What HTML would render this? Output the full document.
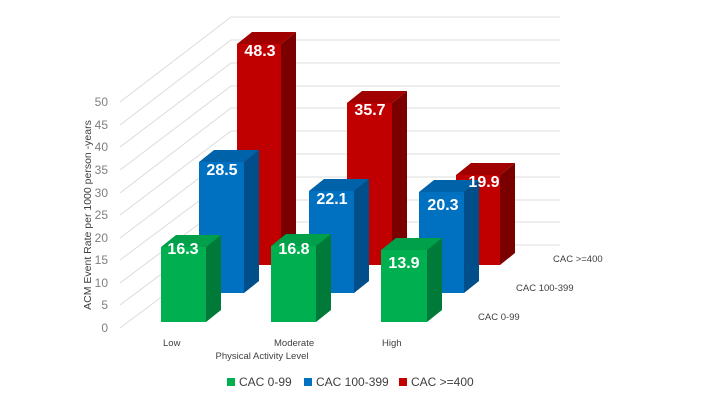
<!DOCTYPE html>
<html><head><meta charset="utf-8"><style>
body{margin:0;background:#fff;}
svg{display:block;font-family:"Liberation Sans",sans-serif;}
</style></head><body>
<svg width="720" height="405" viewBox="0 0 720 405">
<g stroke="#dcdcdc" stroke-width="1" fill="none">
<polyline points="120,328 231,245 560,245"/>
<polyline points="120,305 231,222 560,222"/>
<polyline points="120,283 231,200 560,200"/>
<polyline points="120,260 231,177 560,177"/>
<polyline points="120,238 231,154 560,154"/>
<polyline points="120,215 231,131 560,131"/>
<polyline points="120,193 231,108 560,108"/>
<polyline points="120,170 231,86 560,86"/>
<polyline points="120,147 231,63 560,63"/>
<polyline points="120,125 231,40 560,40"/>
<polyline points="120,102 231,17 560,17"/>
</g>
<g fill="#7f7f7f" font-size="12" text-anchor="end">
<text x="108" y="332">0</text><text x="108" y="309">5</text><text x="108" y="287">10</text>
<text x="108" y="264">15</text><text x="108" y="242">20</text><text x="108" y="219">25</text>
<text x="108" y="197">30</text><text x="108" y="174">35</text><text x="108" y="151">40</text>
<text x="108" y="129">45</text><text x="108" y="106">50</text>
</g>
<text transform="translate(91,215) rotate(-90)" text-anchor="middle" font-size="10.5" fill="#404040">ACM Event Rate per 1000 person -years</text>
<g>
<polygon points="281,44 296,32 296,253 281,265" fill="#7a0000"/>
<polygon points="237,44 252,32 296,32 281,44" fill="#a00000"/>
<rect x="237" y="44" width="44" height="221" fill="#c00000"/>
<polygon points="392,103 407,91 407,253 392,265" fill="#7a0000"/>
<polygon points="347,103 362,91 407,91 392,103" fill="#a00000"/>
<rect x="347" y="103" width="45" height="162" fill="#c00000"/>
<polygon points="500,175 515,163 515,253 500,265" fill="#7a0000"/>
<polygon points="456,175 471,163 515,163 500,175" fill="#a00000"/>
<rect x="456" y="175" width="44" height="90" fill="#c00000"/>

<polygon points="244,162 259,150 259,281 244,293" fill="#004f8a"/>
<polygon points="199,162 214,150 259,150 244,162" fill="#0062a8"/>
<rect x="199" y="162" width="45" height="131" fill="#0070c0"/>
<polygon points="354,191 369,179 369,281 354,293" fill="#004f8a"/>
<polygon points="309,191 324,179 369,179 354,191" fill="#0062a8"/>
<rect x="309" y="191" width="45" height="102" fill="#0070c0"/>
<polygon points="464,192 479,180 479,281 464,293" fill="#004f8a"/>
<polygon points="419,192 434,180 479,180 464,192" fill="#0062a8"/>
<rect x="419" y="192" width="45" height="101" fill="#0070c0"/>

<polygon points="206,247 221,235 221,310 206,322" fill="#007a38"/>
<polygon points="161,247 176,235 221,235 206,247" fill="#00a04a"/>
<rect x="161" y="247" width="45" height="75" fill="#00b050"/>
<polygon points="316,246 331,234 331,310 316,322" fill="#007a38"/>
<polygon points="271,246 286,234 331,234 316,246" fill="#00a04a"/>
<rect x="271" y="246" width="45" height="76" fill="#00b050"/>
<polygon points="427,250 442,238 442,310 427,322" fill="#007a38"/>
<polygon points="381,250 396,238 442,238 427,250" fill="#00a04a"/>
<rect x="381" y="250" width="46" height="72" fill="#00b050"/>
</g>
<g font-weight="bold" font-size="16" fill="#fff" text-anchor="middle">
<text x="260" y="56">48.3</text>
<text x="370" y="115">35.7</text>
<text x="484" y="187">19.9</text>
<text x="222" y="175">28.5</text>
<text x="332" y="204">22.1</text>
<text x="443" y="210">20.3</text>
<text x="183" y="254">16.3</text>
<text x="294" y="254">16.8</text>
<text x="404" y="268">13.9</text>
</g>
<g fill="#404040" font-size="9.5">
<text x="553" y="262">CAC &gt;=400</text>
<text x="516" y="291">CAC 100-399</text>
<text x="478" y="320">CAC 0-99</text>
<text x="163" y="346">Low</text>
<text x="274" y="346">Moderate</text>
<text x="382" y="346">High</text>
<text x="262" y="359" text-anchor="middle">Physical Activity Level</text>
</g>
<g font-size="12" fill="#404040">
<rect x="227" y="378" width="8" height="8" fill="#00b050"/><text x="239" y="386">CAC 0-99</text>
<rect x="304" y="378" width="8" height="8" fill="#0070c0"/><text x="316" y="386">CAC 100-399</text>
<rect x="399" y="378" width="8" height="8" fill="#c00000"/><text x="411" y="386">CAC &gt;=400</text>
</g>
</svg>
</body></html>
